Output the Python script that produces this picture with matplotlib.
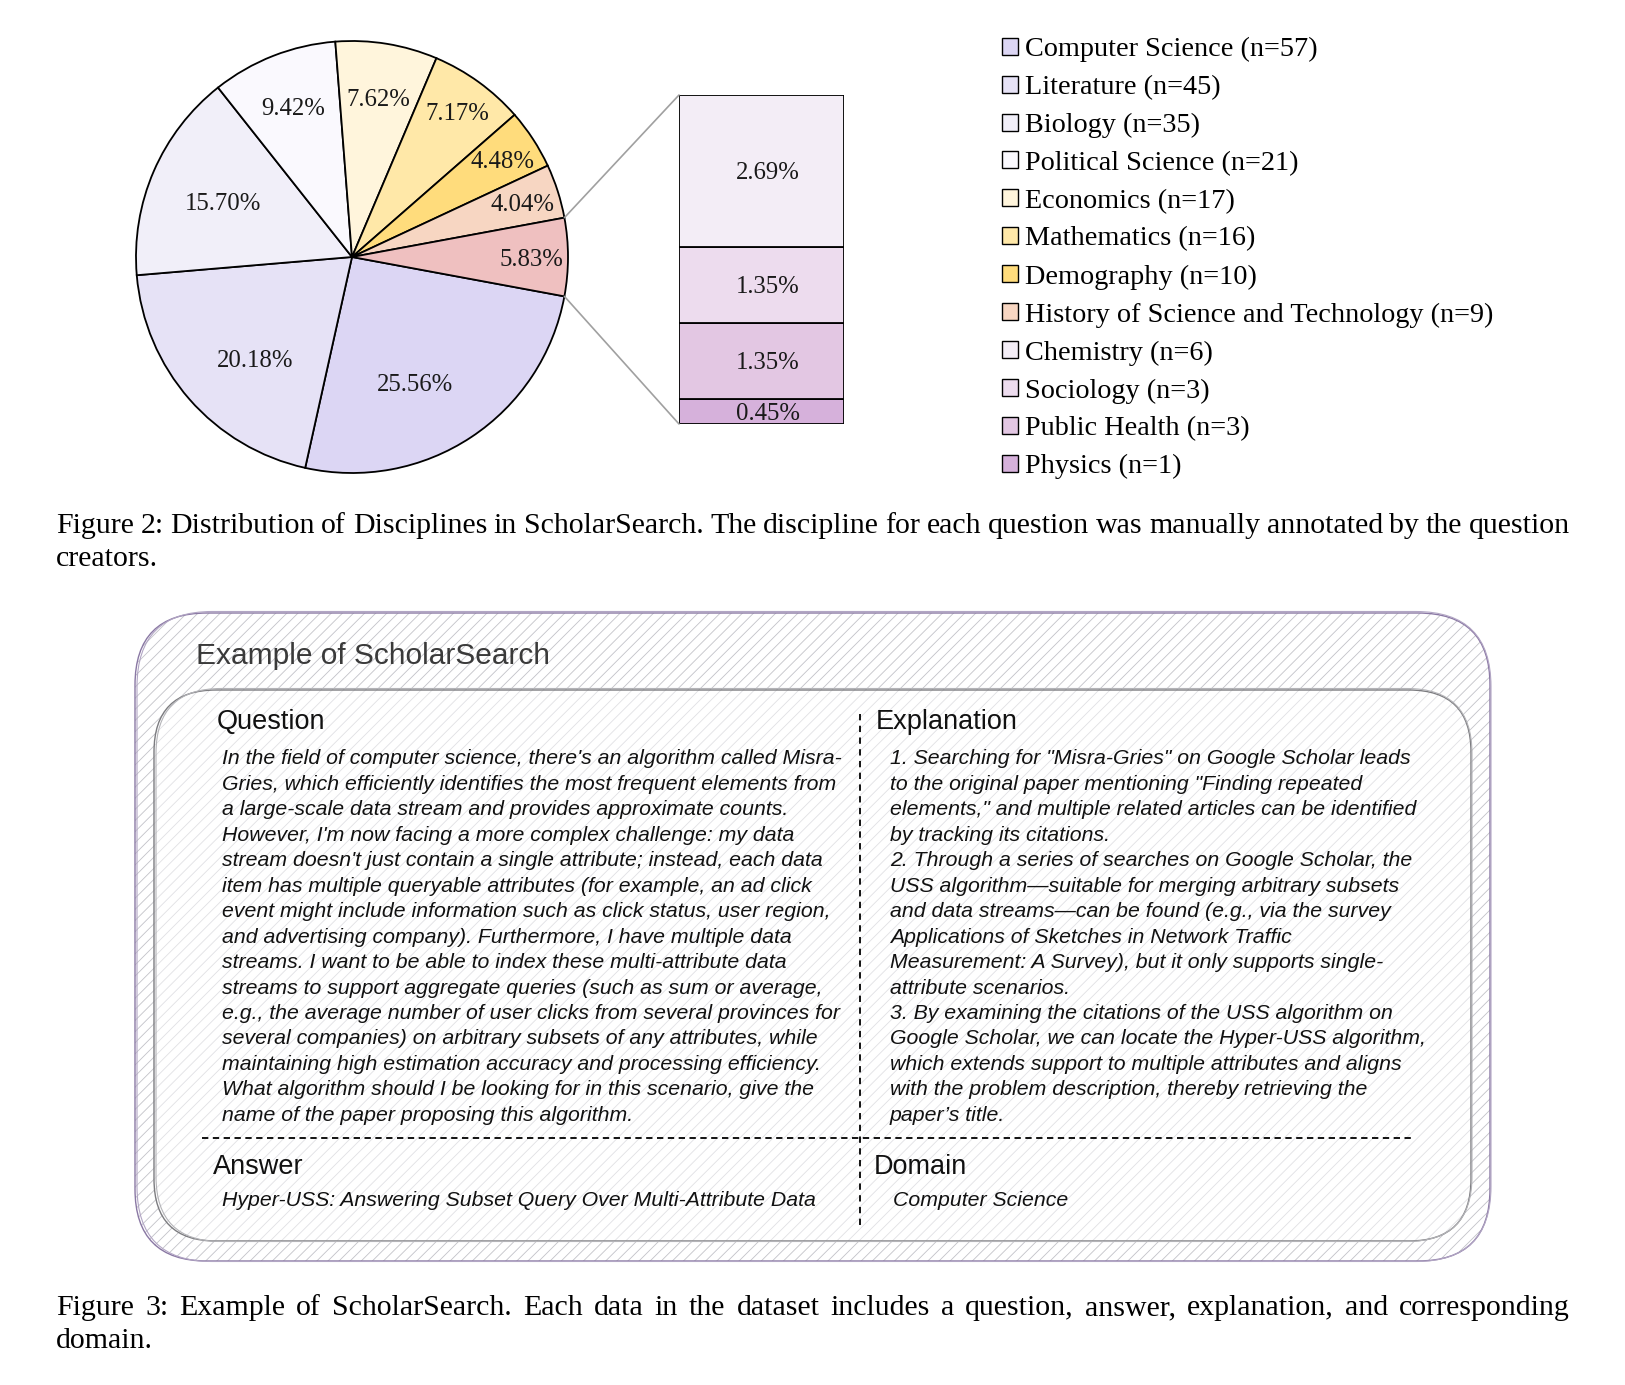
import numpy as np
import matplotlib
matplotlib.use('Agg')
import matplotlib.pyplot as plt
from matplotlib.patches import FancyBboxPatch, ConnectionPatch, Patch
from matplotlib.font_manager import FontProperties

W, H = 1625, 1385

# data
disciplines = ['Computer Science', 'Literature', 'Biology', 'Political Science', 'Economics',
               'Mathematics', 'Demography', 'History of Science and Technology',
               'Chemistry', 'Sociology', 'Public Health', 'Physics']
counts = [57, 45, 35, 21, 17, 16, 10, 9, 6, 3, 3, 1]
colors = ['#dcd6f4', '#e6e2f6', '#f1eff9', '#faf9fe', '#fff5dc', '#ffe8a8', '#ffdc7c', '#f7d6c2',
          '#f3edf6', '#eddcee', '#e3c7e3', '#d6b1db']
other_color = '#efc0c0'
n_main = 8

caption2 = ("Figure 2: Distribution of Disciplines in ScholarSearch. The discipline for each question "
            "was manually annotated by the question", "creators.")
caption3 = ("Figure 3: Example of ScholarSearch. Each data in the dataset includes a question, answer, "
            "explanation, and corresponding", "domain.")

box_title = 'Example of ScholarSearch'
question_lines = [
    "In the field of computer science, there's an algorithm called Misra-",
    "Gries, which efficiently identifies the most frequent elements from",
    "a large-scale data stream and provides approximate counts.",
    "However, I'm now facing a more complex challenge: my data",
    "stream doesn't just contain a single attribute; instead, each data",
    "item has multiple queryable attributes (for example, an ad click",
    "event might include information such as click status, user region,",
    "and advertising company). Furthermore, I have multiple data",
    "streams. I want to be able to index these multi-attribute data",
    "streams to support aggregate queries (such as sum or average,",
    "e.g., the average number of user clicks from several provinces for",
    "several companies) on arbitrary subsets of any attributes, while",
    "maintaining high estimation accuracy and processing efficiency.",
    "What algorithm should I be looking for in this scenario, give the",
    "name of the paper proposing this algorithm.",
]
explanation_lines = [
    "1. Searching for \"Misra-Gries\" on Google Scholar leads",
    "to the original paper mentioning \"Finding repeated",
    "elements,\" and multiple related articles can be identified",
    "by tracking its citations.",
    "2. Through a series of searches on Google Scholar, the",
    "USS algorithm\u2014suitable for merging arbitrary subsets",
    "and data streams\u2014can be found (e.g., via the survey",
    "Applications of Sketches in Network Traffic",
    "Measurement: A Survey), but it only supports single-",
    "attribute scenarios.",
    "3. By examining the citations of the USS algorithm on",
    "Google Scholar, we can locate the Hyper-USS algorithm,",
    "which extends support to multiple attributes and aligns",
    "with the problem description, thereby retrieving the",
    "paper\u2019s title.",
]
answer_text = "Hyper-USS: Answering Subset Query Over Multi-Attribute Data"
domain_text = "Computer Science"

SERIF = 'Liberation Serif'
SANS = 'Liberation Sans'

total = sum(counts)
pie_vals = counts[:n_main] + [sum(counts[n_main:])]
pie_cols = colors[:n_main] + [other_color]
# label placement inside wedges (radius, angle nudge in degrees)
pct_dist = [0.65, 0.65, 0.65, 0.75, 0.75, 0.83, 0.83, 0.83, 0.83]
pct_nudge = [-7, 5, 0, 0, 0, 0, 0, 0, 0]

fig = plt.figure(figsize=(W / 100, H / 100), dpi=100)

# background canvas in pixel coords
ax0 = fig.add_axes([0, 0, 1, 1])
ax0.set_xlim(0, W)
ax0.set_ylim(H, 0)
ax0.axis('off')


def fig_rect(x, y, w, h):
    return [x / W, 1 - (y + h) / H, w / W, h / H]


# pie
cx, cy, r = 352, 257, 216
axp = fig.add_axes(fig_rect(cx - r, cy - r, 2 * r, 2 * r))
wedges, _ = axp.pie(pie_vals, colors=pie_cols, startangle=-10.5, counterclock=False,
                    wedgeprops=dict(edgecolor='black', linewidth=1.3))
axp.set_xlim(-1, 1)
axp.set_ylim(-1, 1)
for w, v, d, nd in zip(wedges, pie_vals, pct_dist, pct_nudge):
    ang = np.deg2rad((w.theta1 + w.theta2) / 2 + nd)
    axp.text(d * np.cos(ang), d * np.sin(ang), f'{v / total * 100:.2f}%', ha='center',
             va='center_baseline', family=SERIF, fontsize=17.8, color='#1a1a1a')

# bar of the "other" slice
axb = fig.add_axes(fig_rect(679, 95, 165, 329))
rest = counts[n_main:][::-1]
rest_cols = colors[n_main:][::-1]
bottom = 0
for v, c in zip(rest, rest_cols):
    axb.bar(0, v, width=1, bottom=bottom, color=c, edgecolor='black', linewidth=1.3)
    axb.text(0.04, bottom + v / 2, f'{v / total * 100:.2f}%', ha='center', va='center_baseline',
             family=SERIF, fontsize=17.8, color='#1a1a1a')
    bottom += v
axb.set_xlim(-0.5, 0.5)
axb.set_ylim(0, bottom)
axb.axis('off')

# connectors
ow = wedges[-1]
for th, yb in [(ow.theta2, bottom), (ow.theta1, 0)]:
    t = np.deg2rad(th)
    con = ConnectionPatch(xyA=(np.cos(t), np.sin(t)), coordsA=axp.transData,
                          xyB=(-0.5, yb), coordsB=axb.transData, color='#a0a0a0', lw=1.2)
    fig.add_artist(con)

# legend
handles = [Patch(facecolor=c, edgecolor='black', linewidth=1.0) for c in colors]
labels = [f'{d} (n={n})' for d, n in zip(disciplines, counts)]
fig.legend(handles, labels, loc='upper left', bbox_to_anchor=(1002 / W, 1 - 37 / H),
           frameon=False, prop=FontProperties(family=SERIF, size=20.3),
           handlelength=0.55, handleheight=0.55, handletextpad=0.25, labelspacing=0.455,
           borderpad=0, borderaxespad=0)

renderer = fig.canvas.get_renderer()


def justified(line, x0, x1, y, fp):
    words = line.split(' ')
    widths = [renderer.get_text_width_height_descent(wd, fp, ismath=False)[0] for wd in words]
    gap = (x1 - x0 - sum(widths)) / (len(words) - 1)
    x = x0
    for wd, wi in zip(words, widths):
        ax0.text(x, y, wd, fontproperties=fp, ha='left', va='baseline', color='black')
        x += wi + gap


cap_fp = FontProperties(family=SERIF, size=21.5)
justified(caption2[0], 56, 1570, 533, cap_fp)
ax0.text(56, 566, caption2[1], fontproperties=cap_fp, ha='left', va='baseline')
justified(caption3[0], 56, 1570, 1315, cap_fp)
ax0.text(56, 1348, caption3[1], fontproperties=cap_fp, ha='left', va='baseline')

# example box
plt.rcParams['hatch.linewidth'] = 0.6
outer = (135, 613, 1355, 648)
inner = (154, 690, 1317, 551)
ax0.add_patch(FancyBboxPatch(outer[:2], outer[2], outer[3], boxstyle='round,pad=0,rounding_size=72',
                             facecolor='white', edgecolor='#c2c2c8', hatch='///', linewidth=0))
ax0.add_patch(FancyBboxPatch(inner[:2], inner[2], inner[3], boxstyle='round,pad=0,rounding_size=62',
                             facecolor=(1, 1, 1, 0.5), edgecolor='none', linewidth=0))
for (bx, by, bw, bh), rs, cols in [(outer, 72, ('#8a78a4', '#b2a6c4')),
                                   (inner, 62, ('#7c7c80', '#b4b4b8'))]:
    ax0.add_patch(FancyBboxPatch((bx, by), bw, bh, boxstyle=f'round,pad=0,rounding_size={rs}',
                                 facecolor='none', edgecolor=cols[0], linewidth=1.0))
    ax0.add_patch(FancyBboxPatch((bx + 2, by - 1.5), bw - 1, bh + 2,
                                 boxstyle=f'round,pad=0,rounding_size={rs + 3}',
                                 facecolor='none', edgecolor=cols[1], linewidth=0.8))

ax0.text(196, 656, box_title, family=SANS, fontsize=21.5, color='#3a3a3a', ha='left', va='center')

head_kw = dict(family=SANS, fontsize=19.5, color='#111111', ha='left', va='center')
body_kw = dict(family=SANS, fontsize=15.3, style='italic', color='#111111', ha='left', va='center')

ax0.text(217, 722, 'Question', **head_kw)
ax0.text(876, 722, 'Explanation', **head_kw)
pitch = 25.45
for i, ln in enumerate(question_lines):
    ax0.text(222, 759 + i * pitch, ln, **body_kw)
for i, ln in enumerate(explanation_lines):
    ax0.text(890, 759 + i * pitch, ln, **body_kw)

ax0.text(213, 1167, 'Answer', **head_kw)
ax0.text(874, 1167, 'Domain', **head_kw)
ax0.text(222, 1200, answer_text, **body_kw)
ax0.text(893, 1200, domain_text, **body_kw)

ax0.plot([860, 860], [714, 1227], color='black', lw=1.3, ls=(0, (3.5, 3)))
ax0.plot([202, 1413], [1138, 1138], color='black', lw=1.3, ls=(0, (3.5, 2.5)))

fig.savefig('out.png', dpi=100)
